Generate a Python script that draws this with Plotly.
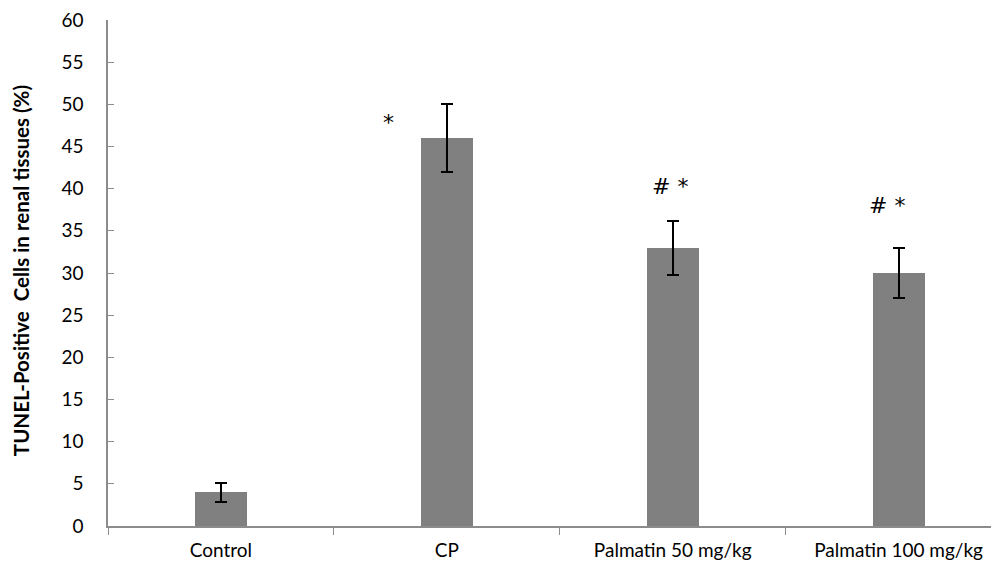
import plotly.graph_objects as go

categories = ["Control", "CP", "Palmatin 50 mg/kg", "Palmatin 100 mg/kg"]
values = [4, 46, 33, 30]
errors = [1.15, 4, 3.2, 3]
marks = ["", "*", "# *", "# *"]
mark_y = [None, 47.8, 40.2, 38.0]
mark_x = [None, 0.74, 1.99, 2.95]
y_title = "<b>TUNEL-Positive  Cells in renal tissues (%)</b>"

fig = go.Figure()
fig.add_trace(go.Bar(
    x=categories, y=values, width=0.23,
    marker=dict(color="#808080", line=dict(width=0)),
    error_y=dict(type="data", array=errors, color="black", thickness=2, width=6),
))

for c, m, my, mx in zip(categories, marks, mark_y, mark_x):
    if m:
        fig.add_annotation(x=mx, y=my, text=m, showarrow=False, xref="x", yref="y",
                           font=dict(size=22, color="black", family="DejaVu Sans"))

fig.add_annotation(x=-0.096, y=0.505, xref="paper", yref="paper", text=y_title,
                   textangle=-90, showarrow=False, xanchor="center", yanchor="middle",
                   font=dict(size=20.5, family="Lato", color="black"))

fig.update_layout(
    width=999, height=566,
    margin=dict(l=100, r=0, t=8, b=48),
    plot_bgcolor="white", paper_bgcolor="white",
    showlegend=False,
    font=dict(family="Lato", color="black"),
    bargap=0,
)
fig.update_xaxes(
    type="category", range=[-0.5, 3.48],
    showline=True, linecolor="#8c8c8c", linewidth=1.5,
    ticks="outside", tickson="boundaries", ticklen=7, tickcolor="#8c8c8c",
    ticklabelstandoff=6,
    tickfont=dict(size=19, family="Lato"), showgrid=False,
)
fig.update_yaxes(
    range=[0, 60], dtick=5,
    showline=True, linecolor="#8c8c8c", linewidth=1.5,
    ticks="inside", ticklen=6, tickcolor="#8c8c8c", ticklabelstandoff=19,
    ticklabeloverflow="allow",
    tickfont=dict(size=19, family="Lato"), showgrid=False, zeroline=False,
)
fig.write_html("out.html")
